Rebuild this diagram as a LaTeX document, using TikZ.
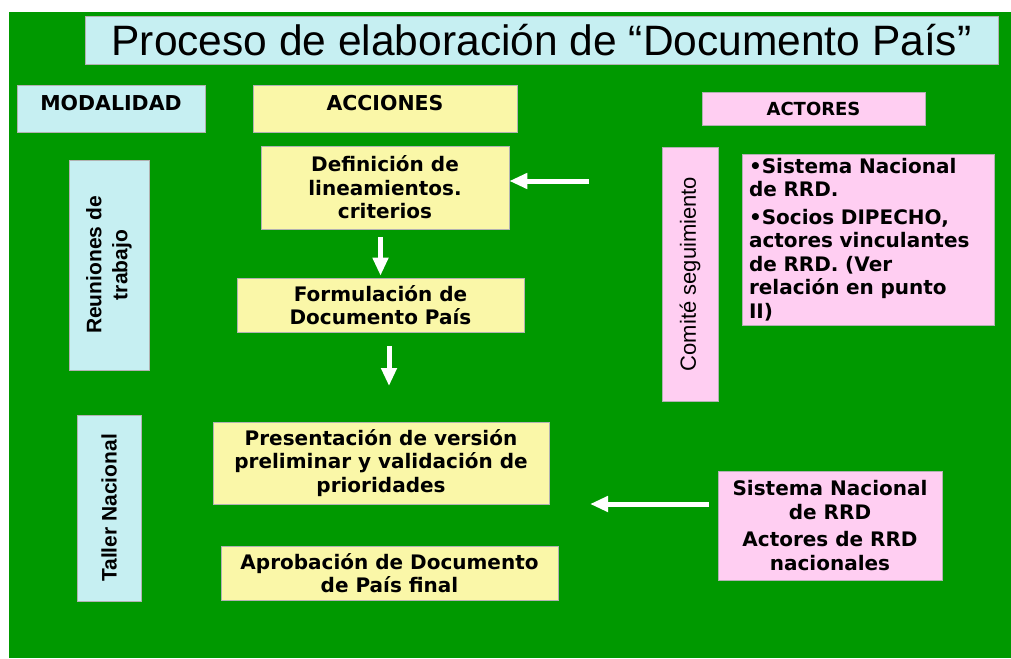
\documentclass[tikz,border=0pt]{standalone}
\usepackage{fontspec}
\setmainfont{DejaVu Sans}
\newfontfamily\arialfont{Liberation Sans}
\usetikzlibrary{arrows.meta}

\definecolor{fondo}{RGB}{0,153,0}
\definecolor{celeste}{RGB}{198,239,242}
\definecolor{amarillo}{RGB}{250,247,168}
\definecolor{rosa}{RGB}{255,206,242}

\begin{document}
\begin{tikzpicture}[x=1pt, y=-1pt,
    caja/.style={draw=black!30, line width=0.6pt, inner sep=0pt, align=center,
        font=\fontsize{20}{23.5}\selectfont\bfseries},
    azul/.style={caja, fill=celeste},
    amar/.style={caja, fill=amarillo},
    rosado/.style={caja, fill=rosa},
    vertical/.style={rotate=90, font=\arialfont\fontsize{21}{26}\selectfont\bfseries},
    encabezado/.style={anchor=north, inner sep=0pt, yshift=-10pt,
        font=\fontsize{20.5}{24}\selectfont\bfseries},
    flecha/.style={white, line width=5pt, -{Triangle[length=18pt,width=15pt]}}]

    \useasboundingbox (0,0) rectangle (1011,658);
    \fill[white] (0,0) rectangle (1011,658);
    \fill[fondo] (9,12) rectangle (1011,658);

    % titulo y encabezados
    \node[azul, minimum width=913, minimum height=48,
        font=\arialfont\fontsize{42.5}{46}\selectfont] (titulo) at (541.5,40)
        {Proceso de elaboración de “Documento País”};
    \node[azul, minimum width=188, minimum height=47,
        label={[encabezado]north:MODALIDAD}] (modalidad) at (111,108.5) {};
    \node[amar, minimum width=264, minimum height=47,
        label={[encabezado]north:ACCIONES}] (acciones) at (385,108.5) {};
    \node[rosado, minimum width=223, minimum height=33,
        font=\fontsize{18}{22}\selectfont\bfseries] (actores) at (813.5,108.5) {ACTORES};

    % modalidad
    \node[azul, vertical, minimum width=210, minimum height=80] (reuniones) at (109,265)
        {Reuniones de\\ trabajo};
    \node[azul, vertical, minimum width=186, minimum height=64] (taller) at (109,508)
        {Taller Nacional};

    % acciones
    \node[amar, minimum width=248, minimum height=83] (definicion) at (385,187.5)
        {Definición de\\ lineamientos.\\ criterios};
    \node[amar, minimum width=287, minimum height=54] (formulacion) at (380.5,305)
        {Formulación de\\ Documento País};
    \node[amar, minimum width=336, minimum height=82] (presentacion) at (381,463)
        {Presentación de versión\\ preliminar y validación de\\ prioridades};
    \node[amar, minimum width=337, minimum height=54] (aprobacion) at (389.5,573)
        {Aprobación de Documento\\ de País final};

    % actores
    \node[rosado, rotate=90, minimum width=254, minimum height=56,
        font=\arialfont\fontsize{22}{26}\selectfont] (comite) at (690,274)
        {Comité seguimiento};
    \node[rosado, minimum width=252, minimum height=171, text width=238,
        align=left] (socios) at (868,239.5)
        {•Sistema Nacional\\ de RRD.\\[4pt] •Socios DIPECHO,\\ actores vinculantes\\
        de RRD. (Ver\\ relación en punto\\ II)};
    \node[rosado, minimum width=224, minimum height=109] (sistema) at (830,525.5)
        {Sistema Nacional\\ de RRD\\[4pt] Actores de RRD\\ nacionales};

    % flechas
    \coordinate (desdesocios) at (589,181);
    \coordinate (haciataller) at (389,386);
    \coordinate (haciapres) at (590,504);
    \draw[flecha] (desdesocios) -- (desdesocios -| definicion.east);
    \draw[flecha] ([yshift=-8pt]definicion.south -| formulacion.north) -- ([yshift=2pt]formulacion.north);
    \draw[flecha] ([yshift=-14pt]formulacion.south -| haciataller) -- (haciataller);
    \draw[flecha] ([xshift=-9pt]sistema.west |- haciapres) -- (haciapres);

\end{tikzpicture}
\end{document}
